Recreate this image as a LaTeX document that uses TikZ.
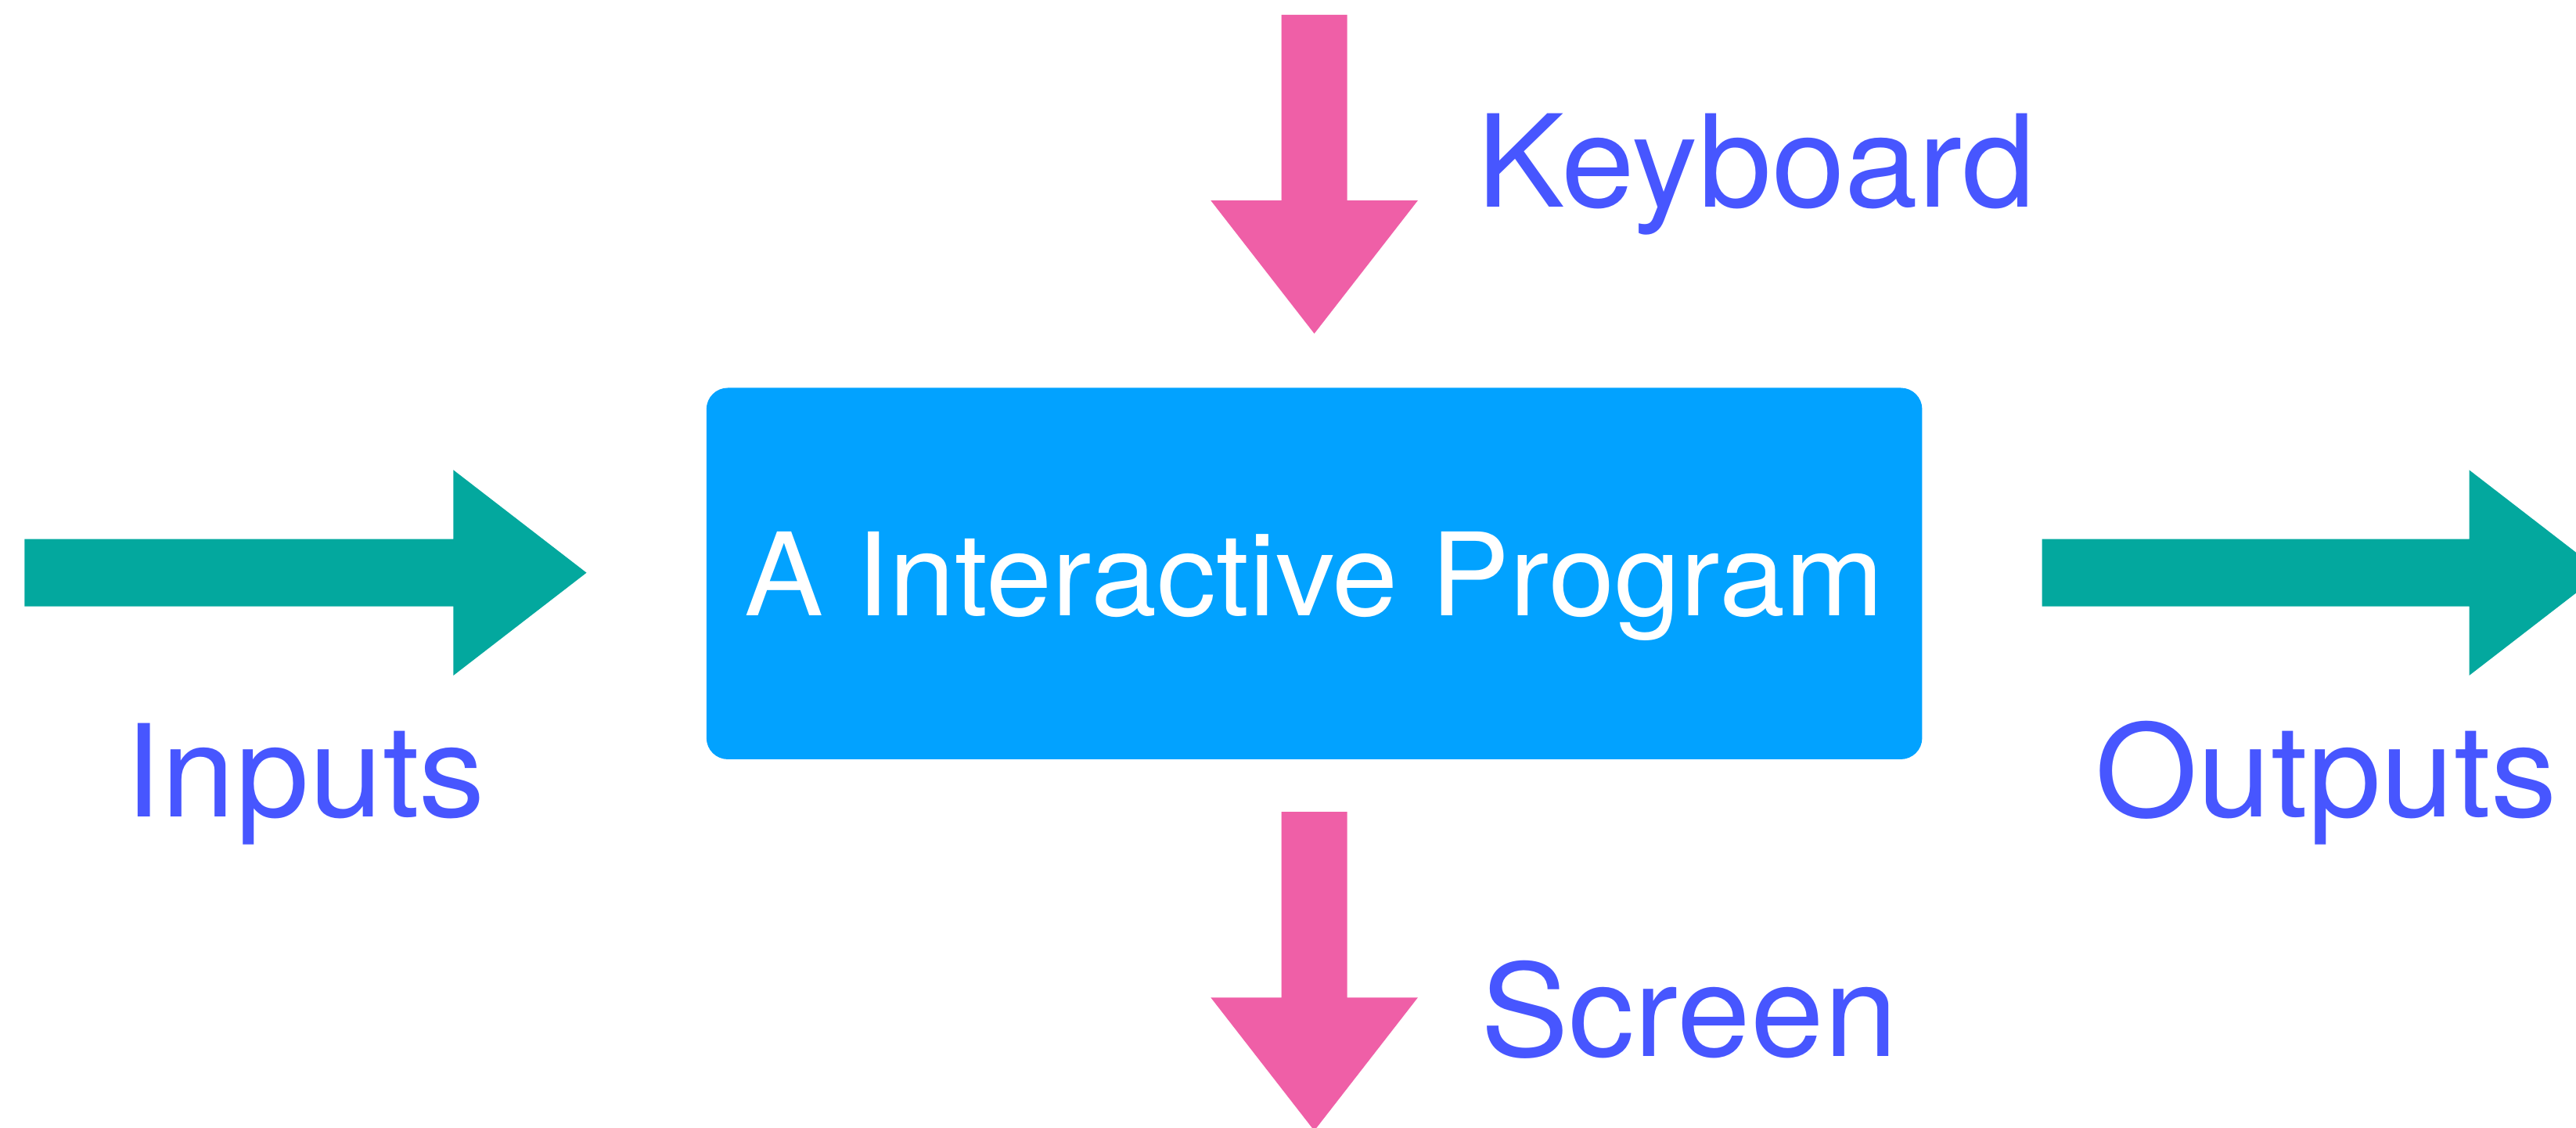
\documentclass[tikz,border=0pt]{standalone}
\usepackage{fontspec}
\setmainfont[FakeStretch=1.03]{TeX Gyre Heros}
\usepackage{tikz}
\usetikzlibrary{positioning,calc}

\definecolor{arrowpink}{HTML}{EF5FA7}
\definecolor{arrowteal}{HTML}{03A89E}
\definecolor{progblue}{HTML}{02A2FF}
\definecolor{labelblue}{HTML}{4756FF}

\begin{document}
\begin{tikzpicture}[x=1pt,y=1pt,
	progbox/.style={fill=progblue,rounded corners=13pt,inner sep=0pt,minimum width=740pt,minimum height=226pt,
		text=white,font=\fontsize{70}{80}\selectfont,text depth=0pt},
	iolabel/.style={text=labelblue,font=\fontsize{78}{90}\selectfont,inner sep=0pt,anchor=base west},
	tealarrow/.style={fill=arrowteal},
	pinkarrow/.style={fill=arrowpink}]
	\useasboundingbox (0,0) rectangle (1568,686);

	\node [progbox] (prog) at (800,337) {A Interactive Program};

	% side arrows
	\fill [tealarrow] (15,317) -- (276,317) -- (276,400) -- (357,337.5) -- (276,275) -- (276,358) -- (15,358) -- cycle;
	\fill [tealarrow] (1243,317) -- (1503,317) -- (1503,400) -- (1584,337.5) -- (1503,275) -- (1503,358) -- (1243,358) -- cycle;

	% top and bottom arrows
	\fill [pinkarrow] (780,677) -- (820,677) -- (820,564) -- (863,564) -- (800,483) -- (737,564) -- (780,564) -- cycle;
	\fill [pinkarrow] (780,192) -- (820,192) -- (820,79) -- (863,79) -- (800,-2) -- (737,79) -- (780,79) -- cycle;

	\node [iolabel] (inputs) at (76,189) {Inputs};
	\node [iolabel] (outputs) at (1275,189) {Outputs};
	\node [iolabel] (keyboard) at (899,560) {Keyboard};
	\node [iolabel] (screen) at (901,43) {Screen};
\end{tikzpicture}
\end{document}
